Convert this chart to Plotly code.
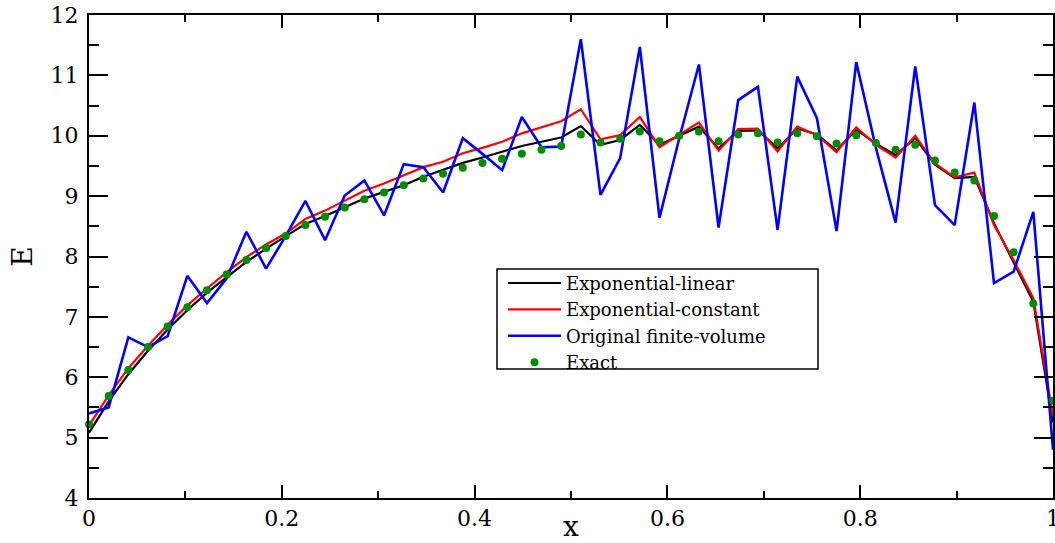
import plotly.graph_objects as go

# grid points (x_i = i/49)
x_vals = [0.0000, 0.0204, 0.0408, 0.0612, 0.0816, 0.1020, 0.1224, 0.1429, 0.1633, 0.1837,
          0.2041, 0.2245, 0.2449, 0.2653, 0.2857, 0.3061, 0.3265, 0.3469, 0.3673, 0.3878,
          0.4082, 0.4286, 0.4490, 0.4694, 0.4898, 0.5102, 0.5306, 0.5510, 0.5714, 0.5918,
          0.6122, 0.6327, 0.6531, 0.6735, 0.6939, 0.7143, 0.7347, 0.7551, 0.7755, 0.7959,
          0.8163, 0.8367, 0.8571, 0.8776, 0.8980, 0.9184, 0.9388, 0.9592, 0.9796, 1.0000]

exp_linear = [5.08, 5.60, 6.05, 6.44, 6.79, 7.11, 7.40, 7.66, 7.91, 8.13,
              8.33, 8.54, 8.67, 8.82, 8.96, 9.07, 9.18, 9.32, 9.43, 9.55,
              9.64, 9.73, 9.83, 9.90, 9.97, 10.16, 9.85, 9.93, 10.18, 9.85,
              10.00, 10.15, 9.79, 10.08, 10.09, 9.79, 10.12, 10.02, 9.76, 10.10,
              9.87, 9.68, 9.96, 9.52, 9.30, 9.32, 8.55, 7.91, 7.25, 5.25]

exp_constant = [5.20, 5.70, 6.15, 6.52, 6.87, 7.19, 7.47, 7.74, 7.99, 8.20,
                8.38, 8.62, 8.76, 8.93, 9.09, 9.21, 9.35, 9.48, 9.57, 9.71,
                9.80, 9.90, 10.04, 10.14, 10.24, 10.44, 9.94, 10.01, 10.31, 9.81,
                10.01, 10.22, 9.75, 10.11, 10.12, 9.74, 10.15, 10.01, 9.73, 10.14,
                9.85, 9.64, 10.00, 9.54, 9.31, 9.39, 8.52, 7.94, 7.31, 5.35]

original_fv = [5.40, 5.50, 6.66, 6.50, 6.68, 7.68, 7.23, 7.64, 8.41, 7.80,
               8.34, 8.92, 8.27, 9.01, 9.26, 8.68, 9.53, 9.48, 9.06, 9.96,
               9.70, 9.43, 10.31, 9.81, 9.82, 11.60, 9.02, 9.63, 11.47, 8.64,
               9.95, 11.18, 8.48, 10.59, 10.81, 8.44, 10.98, 10.29, 8.42, 11.22,
               9.80, 8.56, 11.15, 8.85, 8.52, 10.55, 7.56, 7.75, 8.74, 4.80]

exact = [5.22, 5.69, 6.12, 6.50, 6.84, 7.16, 7.44, 7.70, 7.94, 8.14,
         8.34, 8.52, 8.66, 8.81, 8.95, 9.06, 9.18, 9.29, 9.37, 9.47,
         9.55, 9.62, 9.70, 9.77, 9.83, 10.02, 9.89, 9.95, 10.07, 9.91,
         10.00, 10.07, 9.91, 10.02, 10.04, 9.89, 10.04, 9.99, 9.87, 10.01,
         9.88, 9.77, 9.85, 9.59, 9.39, 9.26, 8.67, 8.07, 7.22, 5.61]

x_ticks = [0, 0.2, 0.4, 0.6, 0.8, 1]
x_ticklabels = ["0", "0.2", "0.4", "0.6", "0.8", "1"]
y_ticks = [4, 5, 6, 7, 8, 9, 10, 11, 12]

FONT = "DejaVu Serif"

fig = go.Figure()
fig.add_trace(go.Scatter(x=x_vals, y=exp_linear, mode="lines", name="Exponential-linear",
                         line=dict(color="#000000", width=2.2)))
fig.add_trace(go.Scatter(x=x_vals, y=exp_constant, mode="lines", name="Exponential-constant",
                         line=dict(color="#ff0000", width=2.2)))
fig.add_trace(go.Scatter(x=x_vals, y=original_fv, mode="lines", name="Original finite-volume",
                         line=dict(color="#0000ff", width=2.6)))
fig.add_trace(go.Scatter(x=x_vals, y=exact, mode="markers", name="Exact", cliponaxis=False,
                         marker=dict(color="#008b00", size=8, line=dict(width=0))))

fig.update_layout(
    template="none",
    width=1055, height=543,
    margin=dict(l=89, r=2, t=15, b=45, autoexpand=False),
    paper_bgcolor="white", plot_bgcolor="white",
    font=dict(family=FONT, color="#000000", size=22),
    showlegend=True,
    legend=dict(x=(503 - 89) / 964, y=(498 - 264.8) / 483, xanchor="left", yanchor="top",
                bgcolor="rgba(0,0,0,0)", borderwidth=0, itemwidth=53,
                font=dict(family=FONT, size=18, color="#000000")),
    shapes=[dict(type="rect", xref="paper", yref="paper",
                 x0=(497 - 89) / 964, x1=(818 - 89) / 964,
                 y0=(498 - 369) / 483, y1=(498 - 269) / 483,
                 line=dict(color="#000000", width=1.5), fillcolor="rgba(0,0,0,0)", layer="above")],
)

fig.update_xaxes(
    range=[0, 1], tickvals=x_ticks, ticktext=x_ticklabels,
    showgrid=False, zeroline=False, automargin=False, ticklabeloverflow="allow",
    showline=True, linecolor="#000000", linewidth=2, mirror="ticks",
    ticks="inside", ticklen=13, tickwidth=1.5, tickcolor="#000000",
    tickfont=dict(family=FONT, size=22),
    minor=dict(dtick=0.1, tick0=0, ticks="inside", ticklen=7, tickwidth=1.5, tickcolor="#000000", showgrid=False),
    title=dict(text="x", font=dict(family=FONT, size=28), standoff=2),
)
fig.update_yaxes(
    range=[4, 12], tickvals=y_ticks,
    showgrid=False, zeroline=False, automargin=False,
    showline=True, linecolor="#000000", linewidth=2, mirror="ticks",
    ticks="inside", ticklen=19, tickwidth=1.5, tickcolor="#000000",
    tickfont=dict(family=FONT, size=22), ticklabelstandoff=4,
    minor=dict(dtick=0.5, tick0=4, ticks="inside", ticklen=10, tickwidth=1.5, tickcolor="#000000", showgrid=False),
    title=dict(text="E", font=dict(family=FONT, size=28), standoff=10),
)

fig.write_html("out.html")
